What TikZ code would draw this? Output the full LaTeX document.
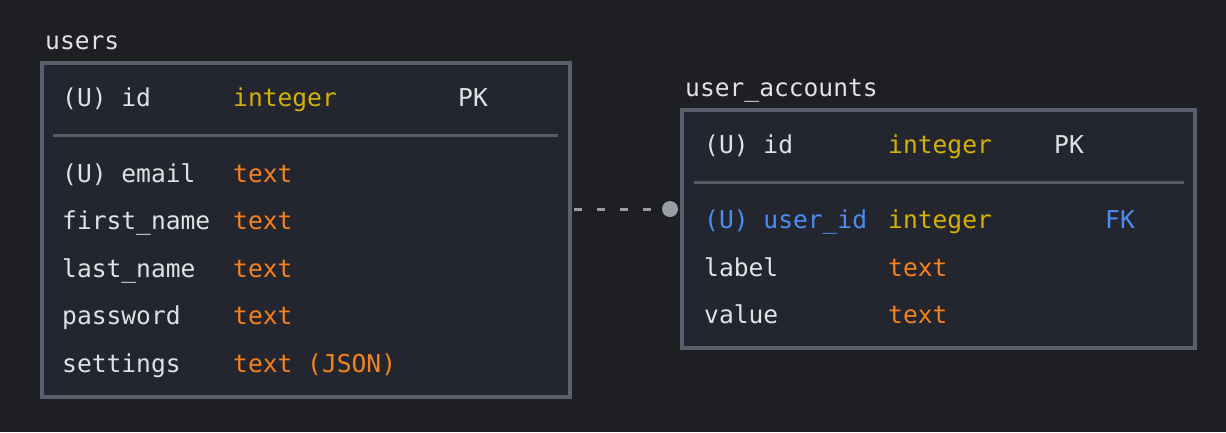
\documentclass[tikz,border=0pt]{standalone}
\usepackage{fontspec}
\newfontfamily\mono{DejaVu Sans Mono}
\definecolor{bg}{HTML}{1E1F22}
\definecolor{tablefill}{HTML}{23262E}
\definecolor{bordercol}{HTML}{5B5F6B}
\definecolor{sepcol}{HTML}{565A63}
\definecolor{txt}{HTML}{DFE1E5}
\definecolor{yel}{HTML}{D4B106}
\definecolor{ora}{HTML}{F5821F}
\definecolor{blu}{HTML}{4B8CF5}
\definecolor{conn}{HTML}{9A9CA4}
\tikzset{
  tablebox/.style={draw=bordercol, line width=4pt, fill=tablefill, inner sep=0pt},
  sepline/.style={draw=sepcol, line width=2.5pt},
  lbl/.style={anchor=base west, inner sep=0pt, font=\mono\fontsize{24.6}{28}\selectfont, text=txt},
  ty/.style={lbl, text=yel},
  tt/.style={lbl, text=ora},
  fk/.style={lbl, text=blu},
  connector/.style={draw=conn, line width=3pt, dash pattern=on 8pt off 15pt},
  dot/.style={circle, fill=conn, inner sep=0pt, minimum size=16pt},
}
\begin{document}
\begin{tikzpicture}[x=1pt,y=-1pt]
\useasboundingbox[fill=bg] (0,0) rectangle (1226,432);
% users table
\node[lbl] (usersTitle) at (45,49) {users};
\node[tablebox, minimum width=528pt, minimum height=334pt] (users) at (306,230) {};
\node[lbl] (u1a) at (62,106) {(U) id};
\node[ty] (u1b) at (233,106) {integer};
\node[lbl] (u1c) at (458,106) {PK};
\coordinate (us1) at (53,135.5);
\coordinate (us2) at (558,135.5);
\draw[sepline] (us1) -- (us2);
\node[lbl] (u2a) at (62,182) {(U) email};
\node[tt] (u2b) at (233,182) {text};
\node[lbl] (u3a) at (62,229.5) {first\_name};
\node[tt] (u3b) at (233,229.5) {text};
\node[lbl] (u4a) at (62,277) {last\_name};
\node[tt] (u4b) at (233,277) {text};
\node[lbl] (u5a) at (62,324.5) {password};
\node[tt] (u5b) at (233,324.5) {text};
\node[lbl] (u6a) at (62,372) {settings};
\node[tt] (u6b) at (233,372) {text (JSON)};
% user_accounts table
\node[lbl] (uaTitle) at (685,96) {user\_accounts};
\node[tablebox, minimum width=513pt, minimum height=238pt] (ua) at (938.5,229) {};
\node[lbl] (a1a) at (704,153) {(U) id};
\node[ty] (a1b) at (888,153) {integer};
\node[lbl] (a1c) at (1054,153) {PK};
\coordinate (as1) at (694,182.5);
\coordinate (as2) at (1184,182.5);
\draw[sepline] (as1) -- (as2);
\node[fk] (a2a) at (704,228.5) {(U) user\_id};
\node[ty] (a2b) at (888,228.5) {integer};
\node[fk] (a2c) at (1105,228.5) {FK};
\node[lbl] (a3a) at (704,276) {label};
\node[tt] (a3b) at (888,276) {text};
\node[lbl] (a4a) at (704,323.5) {value};
\node[tt] (a4b) at (888,323.5) {text};
% connector
\node[dot] (d) at (670,209) {};
\draw[connector] ([xshift=2pt]users.east |- d) -- (d);
\end{tikzpicture}
\end{document}
